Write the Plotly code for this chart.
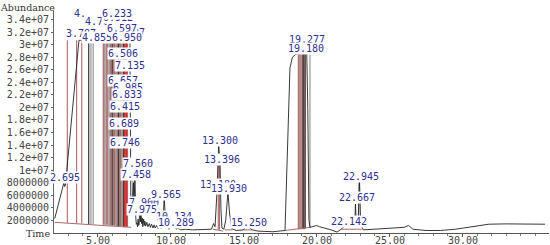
import numpy as np
import plotly.graph_objects as go

# ---------------------------------------------------------------------------
# Total ion chromatogram (retention time in min, abundance in millions)
time_min = [
    2.07, 2.55, 2.65, 2.695, 2.75, 2.80, 3.73, 7.22,
    7.28, 7.33, 7.38, 7.46, 7.50, 7.56, 7.62, 7.66, 7.70, 7.74, 7.78, 7.82,
    7.85, 7.90, 7.94, 7.975, 8.02, 8.06, 8.10, 8.16, 8.20, 8.24, 8.30, 8.38,
    8.45, 8.55, 8.62, 8.70, 8.80, 8.88, 8.95, 9.05, 9.15, 9.25, 9.35, 9.45,
    9.52, 9.565, 9.61, 9.68, 9.80, 9.90, 10.00, 10.134, 10.20, 10.289, 10.38,
    10.50, 10.70, 11.00, 11.50, 12.00, 12.50, 12.80, 12.95, 13.05, 13.18,
    13.24, 13.30, 13.35, 13.396, 13.45, 13.52, 13.65, 13.78, 13.93, 14.05,
    14.20, 14.50, 15.00, 15.10, 15.25, 15.40, 15.60, 16.00, 17.00, 17.84,
    18.18, 18.35, 18.60, 19.00, 19.33, 19.40, 19.48, 19.55, 19.80, 20.00,
    20.20, 20.60, 21.00, 21.40, 21.70, 21.95, 22.142, 22.35, 22.55, 22.62,
    22.667, 22.72, 22.85, 22.945, 23.02, 23.20, 23.80, 24.50, 25.50, 26.00,
    26.30, 26.60, 27.50, 28.50, 29.50, 30.50, 31.80, 33.00, 34.00, 35.65,
]
abundance_m = [
    2.3, 7.0, 7.9, 8.0, 7.4, 7.6, 30.7, 30.7,
    6.0, 3.0, 4.5, 8.0, 3.5, 9.5, 2.5, 1.4, 1.6, 1.0, 2.2, 1.2,
    1.4, 4.5, 1.8, 3.5, 1.5, 2.4, 1.0, 2.2, 1.2, 1.9, 1.1, 1.7,
    1.0, 1.5, 0.9, 1.4, 0.8, 1.3, 0.8, 1.2, 0.7, 1.1, 0.7, 1.0,
    3.0, 6.0, 2.5, 0.8, 1.1, 0.6, 0.9, 2.1, 0.8, 1.4, 0.6,
    0.8, 0.5, 0.6, 0.5, 0.5, 0.5, 0.6, 1.5, 1.0, 6.5,
    10.0, 14.3, 12.0, 11.0, 4.0, 0.8, 0.6, 2.0, 6.5, 3.0,
    0.7, 0.4, 0.5, 0.9, 1.1, 0.9, 0.5, 0.3, 0.2, 0.4,
    26.3, 28.0, 28.5, 28.6, 28.6, 20.0, 2.0, 0.9, 1.0, 1.2,
    1.0, 0.8, 0.5, 0.15, 0.6, 1.2, 1.5, 1.3, 1.0, 1.6,
    4.6, 1.5, 2.0, 8.4, 1.5, 0.5, 0.6, 0.7, 0.8, 0.9,
    1.2, 0.6, 0.4, 0.4, 0.6, 1.0, 1.4, 1.45, 1.4, 1.4,
]

# Integration marks: retention time, bottom and top (M), mark type
mark_t = [
    2.93, 3.57, 3.92, 4.40, 4.55, 4.70,
    5.45, 5.65, 5.85, 6.04, 6.20, 6.38, 6.54, 6.70, 6.90,
    5.40, 5.50, 5.60, 5.70, 5.80, 5.90, 6.00, 6.08, 6.16, 6.25, 6.33,
    6.42, 6.50, 6.58, 6.66, 6.74, 6.80, 6.87, 6.93, 7.00, 7.06,
    7.42, 13.27, 13.35,
    18.75, 19.08, 19.22, 19.55, 22.90,
]
mark_bottom_m = [
    1.6, 1.5, 1.5, 1.4, 1.4, 1.4,
    1.3, 1.3, 1.2, 1.2, 1.2, 1.1, 1.1, 1.1, 1.0,
    1.3, 1.3, 1.3, 1.3, 1.2, 1.2, 1.2, 1.2, 1.2, 1.2, 1.1,
    1.1, 1.1, 1.1, 1.1, 1.0, 1.0, 1.0, 1.0, 1.0, 1.0,
    5.2, 0.5, 0.5,
    0.6, 0.7, 0.7, 0.9, 1.0,
]
mark_top_m = [
    30.7, 30.7, 30.7, 30.7, 30.7, 30.7,
    30.7, 30.7, 30.7, 30.7, 30.7, 30.7, 30.7, 30.7, 30.7,
    30.7, 30.7, 30.7, 30.7, 30.7, 30.7, 30.7, 30.7, 30.7, 30.7, 30.7,
    30.7, 30.7, 30.7, 30.7, 30.7, 30.7, 30.7, 30.7, 30.7, 30.7,
    9.0, 12.5, 11.5,
    28.5, 28.5, 28.6, 28.4, 8.0,
]
mark_kind = [
    "b", "b", "b", "k", "g", "g",
    "f", "f", "f", "f", "f", "f", "f", "f", "f",
    "b", "g", "b", "b", "g", "b", "k", "b", "b", "g", "b",
    "k", "b", "b", "g", "b", "k", "r", "b", "r", "g",
    "g", "b", "b",
    "b", "k", "k", "g", "g",
]

# Filled peak area of the 19.18 peak
band_t0 = [18.75]
band_t1 = [19.22]
band_bottom_m = [0.6]
band_top_m = [28.5]

# Integration baselines (start time, start M, end time, end M)
base_t0 = [2.07, 12.90, 13.70, 15.00, 17.84, 21.70]
base_y0 = [1.7, 0.6, 0.5, 0.5, 0.4, 0.6]
base_t1 = [7.30, 13.60, 14.25, 15.60, 19.55, 23.10]
base_y1 = [0.9, 0.3, 0.5, 0.5, 0.9, 0.6]

# Peak labels (drawn in this order) and the height of each label (M)
peak_labels = [
    "3.787", "4.855", "4.", "4.702", "6.912", "6.233", "6.927", "6.597",
    "6.950", "6.506", "7.135", "6.657", "6.985", "6.833", "6.415", "6.689",
    "6.746", "7.560", "7.458", "7.900", "7.975", "9.565", "10.134", "10.289",
    "2.695", "13.300", "13.396", "13.180", "13.930", "15.250", "19.277",
    "19.180", "22.945", "22.667", "22.142",
]
label_heights_m = [
    31.8, 31.2, 35.0, 33.7, 34.3, 35.0, 32.0, 32.6,
    31.2, 28.6, 26.7, 24.3, 23.1, 22.0, 20.2, 17.5,
    14.4, 11.0, 9.3, 4.8, 3.8, 6.1, 2.6, 1.7,
    8.8, 14.7, 11.7, 7.7, 7.1, 1.6, 30.8,
    29.4, 9.0, 5.6, 1.9,
]

y_ticks_m = [2, 4, 6, 8, 10, 12, 14, 16, 18, 20, 22, 24, 26, 28, 30, 32, 34]
y_tick_text = [
    "2000000", "4000000", "6000000", "8000000", "1e+07", "1.2e+07",
    "1.4e+07", "1.6e+07", "1.8e+07", "2e+07", "2.2e+07", "2.4e+07",
    "2.6e+07", "2.8e+07", "3e+07", "3.2e+07", "3.4e+07",
]
x_ticks = [5, 10, 15, 20, 25, 30]
x_tick_text = ["5.00", "10.00", "15.00", "20.00", "25.00", "30.00"]

# ---------------------------------------------------------------------------
M = 1e6
MONO = "DejaVu Sans Mono"
SERIF = "DejaVu Serif"
LABEL_BLUE = "#2f2f8f"

mark_style = {
    "f": dict(color="#e2cfcf", width=3),
    "b": dict(color="#a86a6a", width=1.1),
    "k": dict(color="#1a1a1a", width=1.1),
    "g": dict(color="#8c8c8c", width=1.1),
    "r": dict(color="#e01010", width=1.2),
}
label_nudge_px = {"4.": -3, "4.702": 7, "6.912": -7, "6.415": 7, "6.927": 4,
                  "7.900": 4, "6.506": 3, "6.833": 3, "7.560": 3, "7.458": 3}

fig = go.Figure()

# light filled area of the big 19.18 peak
for t0, t1, lo, hi in zip(band_t0, band_t1, band_bottom_m, band_top_m):
    fig.add_trace(go.Scatter(
        x=[t0, t1, t1, t0, t0], y=np.array([lo, lo, hi, hi, lo]) * M,
        mode="lines", fill="toself", fillcolor="#b98a8a",
        line=dict(width=0), hoverinfo="skip", showlegend=False,
    ))

# vertical integration marks, one trace per mark type
for kind in ["f", "b", "g", "k", "r"]:
    xs, ys = [], []
    for t, lo, hi, k in zip(mark_t, mark_bottom_m, mark_top_m, mark_kind):
        if k != kind:
            continue
        xs += [t, t, None]
        ys += [lo * M, hi * M, None]
    fig.add_trace(go.Scatter(x=xs, y=ys, mode="lines", line=mark_style[kind],
                             hoverinfo="skip", showlegend=False))

# integration baselines
bx, by = [], []
for t0, y0, t1, y1 in zip(base_t0, base_y0, base_t1, base_y1):
    bx += [t0, t1, None]
    by += [y0 * M, y1 * M, None]
fig.add_trace(go.Scatter(x=bx, y=by, mode="lines",
                         line=dict(color="#a86a6a", width=1),
                         hoverinfo="skip", showlegend=False))

# the chromatogram itself
fig.add_trace(go.Scatter(
    x=time_min, y=np.array(abundance_m) * M, mode="lines",
    line=dict(color="#222222", width=0.9), showlegend=False,
))

for text, h in zip(peak_labels, label_heights_m):
    fig.add_annotation(
        x=float(text), y=h * M, xref="x", yref="y", text=text,
        showarrow=False, xanchor="center", yanchor="middle",
        xshift=label_nudge_px.get(text, 1.5),
        bgcolor="white", borderpad=0,
        font=dict(family=MONO, size=10, color=LABEL_BLUE),
    )

# x tick labels, pulled up close to the axis
for v, txt in zip(x_ticks, x_tick_text):
    fig.add_annotation(x=v, y=0, xref="x", yref="paper", text=txt,
                       showarrow=False, xanchor="center", yanchor="middle",
                       yshift=-7, borderpad=0,
                       font=dict(family=MONO, size=10, color="#444444"))

fig.add_annotation(x=-0.053, y=1.018, xref="paper", yref="paper",
                   text="Abundance", showarrow=False,
                   xanchor="center", yanchor="middle",
                   font=dict(family=SERIF, size=9.5, color="#333333"))
fig.add_annotation(x=-0.004, y=0.0, xref="paper", yref="paper",
                   text="Time", showarrow=False, yshift=0,
                   xanchor="right", yanchor="middle",
                   font=dict(family=SERIF, size=9.5, color="#333333"))

fig.update_layout(
    width=550, height=245,
    margin=dict(l=54, r=1, t=11, b=12),
    paper_bgcolor="white", plot_bgcolor="white",
    xaxis=dict(
        range=[2.02, 35.92], tickvals=x_ticks, showticklabels=False,
        showgrid=False, zeroline=False, showline=True,
        linecolor="#555555", linewidth=1, ticks="outside", ticklen=3,
        tickcolor="#555555", automargin=False,
        minor=dict(dtick=1, ticks="outside", ticklen=2, tickcolor="#777777"),
    ),
    yaxis=dict(
        range=[0, 35.35 * M], tickvals=[v * M for v in y_ticks_m],
        ticktext=y_tick_text, showgrid=False, zeroline=False,
        showline=True, linecolor="#666666", linewidth=1,
        ticks="outside", ticklen=2, tickcolor="#666666", automargin=False,
        tickfont=dict(family=MONO, size=10, color="#444444"),
    ),
)

# the page's default body margin would push the 550x245 figure off-window
fig.write_html("out.html",
               config={"displayModeBar": False},
               post_script="document.body.style.margin = '0';")
